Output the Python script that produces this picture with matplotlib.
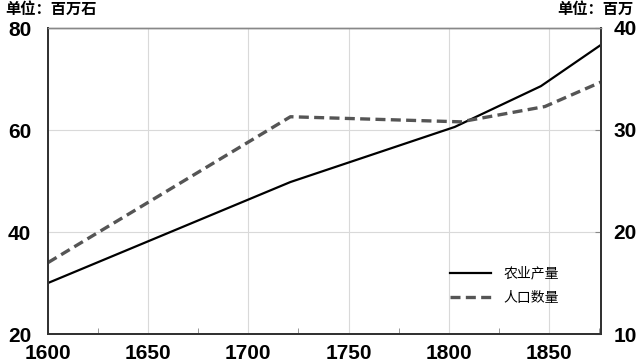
import matplotlib
matplotlib.use("Agg")
import matplotlib.pyplot as plt
from matplotlib.lines import Line2D

# data
agri_years = [1600, 1721, 1803, 1846, 1876]
agri_vals = [30.0, 49.8, 60.6, 68.6, 76.7]          # 百万石, left axis
pop_years = [1600, 1721, 1806, 1848, 1876]
pop_vals = [17.0, 31.3, 30.8, 32.3, 34.7]           # 百万, right axis

x_ticks = [1600, 1650, 1700, 1750, 1800, 1850]
left_ticks = [20, 40, 60, 80]
right_ticks = [10, 20, 30, 40]

CJK = ["Noto Sans CJK SC", "DejaVu Sans"]
NUM = ["Liberation Sans Narrow", "Liberation Sans", "DejaVu Sans"]
SPINE = "#333333"
GRID = "#d9d9d9"

fig = plt.figure(figsize=(6.4, 3.63), dpi=100)
ax = fig.add_axes([48 / 640, 1 - 334 / 363, (601 - 48) / 640, (334 - 28) / 363])
ax2 = ax.twinx()

ax.plot(agri_years, agri_vals, color="black", lw=1.6, solid_joinstyle="miter")
ax2.plot(pop_years, pop_vals, color="#555555", lw=2.4, ls=(0, (3, 1.6)))

ax.set_xlim(1600, 1876)
ax.set_ylim(20, 80)
ax2.set_ylim(10, 40)

ax.set_xticks(x_ticks)
ax.set_xticks([1625, 1675, 1725, 1775, 1825, 1875], minor=True)
ax.set_yticks(left_ticks)
ax2.set_yticks(right_ticks)

ax.grid(True, axis="both", color=GRID, lw=0.8)
ax.set_axisbelow(True)

ax.tick_params(axis="x", which="major", length=0, pad=7)
ax.tick_params(axis="x", which="minor", direction="in", length=4, color="#888888")
ax.tick_params(axis="y", length=0, pad=12)
ax2.tick_params(axis="y", direction="in", length=4, color="#888888", pad=9)

for a in (ax, ax2):
    for lbl in a.get_xticklabels() + a.get_yticklabels():
        lbl.set_fontfamily(NUM)
        lbl.set_fontweight("bold")
        lbl.set_fontsize(15)
    for s in a.spines.values():
        s.set_color(SPINE)
        s.set_linewidth(1.4)
    a.spines["top"].set_color("#888888")
    a.spines["top"].set_linewidth(1.0)

fig.text(5 / 640, 1 - 9 / 363, "单位：百万石", family=CJK, fontsize=11,
         fontweight="bold", va="center", ha="left")
fig.text(634 / 640, 1 - 9 / 363, "单位：百万", family=CJK, fontsize=11,
         fontweight="bold", va="center", ha="right")

handles = [Line2D([], [], color="black", lw=1.6),
           Line2D([], [], color="#555555", lw=2.4, ls=(0, (3, 1.6)))]
leg = ax.legend(handles, ["农业产量", "人口数量"], loc="upper left",
                bbox_to_anchor=(437 / 640, 1 - 254 / 363),
                bbox_transform=fig.transFigure, frameon=False,
                handlelength=3.0, handletextpad=0.9, labelspacing=0.75,
                prop={"family": CJK, "size": 10})

fig.savefig("out.png", dpi=100)
